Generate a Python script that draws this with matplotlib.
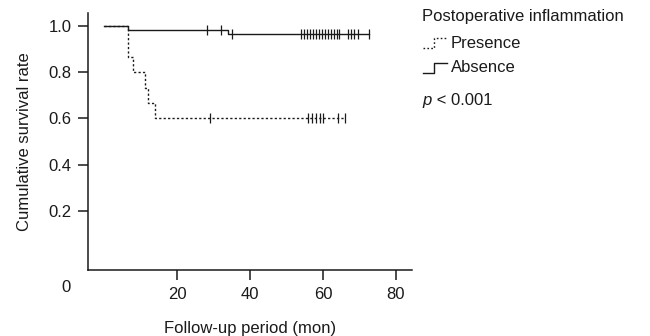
import matplotlib
matplotlib.use("Agg")
import matplotlib.pyplot as plt
from matplotlib.lines import Line2D
import numpy as np

plt.rcParams['font.family'] = ['Liberation Sans', 'DejaVu Sans']

# Kaplan-Meier steps (months, survival)
pres_times = [0, 6.6, 8.0, 11.2, 12.0, 14.0, 66.0]
pres_surv = [1.0, 0.867, 0.8, 0.733, 0.667, 0.6, 0.6]
pres_censor = [29.0, 56.0, 57.0, 58.1, 59.2, 60.0, 64.2, 66.0]

abs_times = [0, 6.6, 34.1, 72.5]
abs_surv = [1.0, 0.983, 0.965, 0.965]
abs_censor = [28.1, 32.0, 35.1, 54.0, 54.8, 55.6, 56.4, 57.3, 58.1, 58.9, 59.7,
              60.5, 61.4, 62.2, 63.0, 63.8, 64.5, 66.8, 67.8, 68.6, 69.5, 72.5]

x_ticks = [20, 40, 60, 80]
y_ticks = [0.2, 0.4, 0.6, 0.8, 1.0]

ink = '#1a1a1a'


def surv_at(times, surv, t):
    i = np.searchsorted(times, t, side='right') - 1
    return np.array(surv)[i]


fig = plt.figure(figsize=(6.5, 3.36), dpi=100)
ax = fig.add_axes([88/650, 1-270/336, 324/650, 257/336])

ax.step(abs_times, abs_surv, where='post', color=ink, lw=1.0, zorder=2)
ax.step(pres_times, pres_surv, where='post', color=ink, lw=1.0,
        linestyle=(0, (1.6, 1.6)), zorder=3)
ax.plot(abs_censor, surv_at(abs_times, abs_surv, abs_censor), ls='none',
        marker='|', ms=6.5, mew=0.9, color=ink)
ax.plot(pres_censor, surv_at(pres_times, pres_surv, pres_censor), ls='none',
        marker='|', ms=6.5, mew=0.9, color=ink)

ax.set_xlim(-4.4, 84.4)
ax.set_ylim(-0.055, 1.055)
ax.set_xticks(x_ticks)
ax.set_yticks(y_ticks)
ax.set_yticklabels([f'{v:.1f}' for v in y_ticks])
ax.spines['top'].set_visible(False)
ax.spines['right'].set_visible(False)
for s in ['left', 'bottom']:
    ax.spines[s].set_linewidth(1.1)
    ax.spines[s].set_color(ink)
ax.tick_params(direction='out', length=7, width=1.1, colors=ink,
               labelsize=12, pad=5)

ax.set_xlabel('Follow-up period (mon)', fontsize=12, color=ink, labelpad=14)
ax.set_ylabel('Cumulative survival rate', fontsize=12, color=ink, labelpad=12)
fig.text(66/650, 1-288/336, '0', ha='center', va='center', fontsize=12, color=ink)

# legend block
lx = 422/650
fig.text(lx, 1-17/336, 'Postoperative inflammation', ha='left', va='center',
         fontsize=12, color=ink)
fig.text(451/650, 1-43/336, 'Presence', ha='left', va='center', fontsize=12, color=ink)
fig.text(451/650, 1-68/336, 'Absence', ha='left', va='center', fontsize=12, color=ink)
fig.text(lx, 1-100/336, 'p', ha='left', va='center', fontsize=12, color=ink,
         style='italic')
fig.text(lx + 10/650, 1-100/336, ' < 0.001', ha='left', va='center', fontsize=12,
         color=ink)


def icon(y, ls):
    xs = np.array([423, 434, 434, 447]) / 650
    ys = 1 - np.array([y + 5, y + 5, y - 5, y - 5]) / 336
    fig.add_artist(Line2D(xs, ys, color=ink, lw=1.0, linestyle=ls))


icon(43, (0, (1.2, 1.6)))
icon(68, '-')

fig.savefig('out.png', dpi=100)
